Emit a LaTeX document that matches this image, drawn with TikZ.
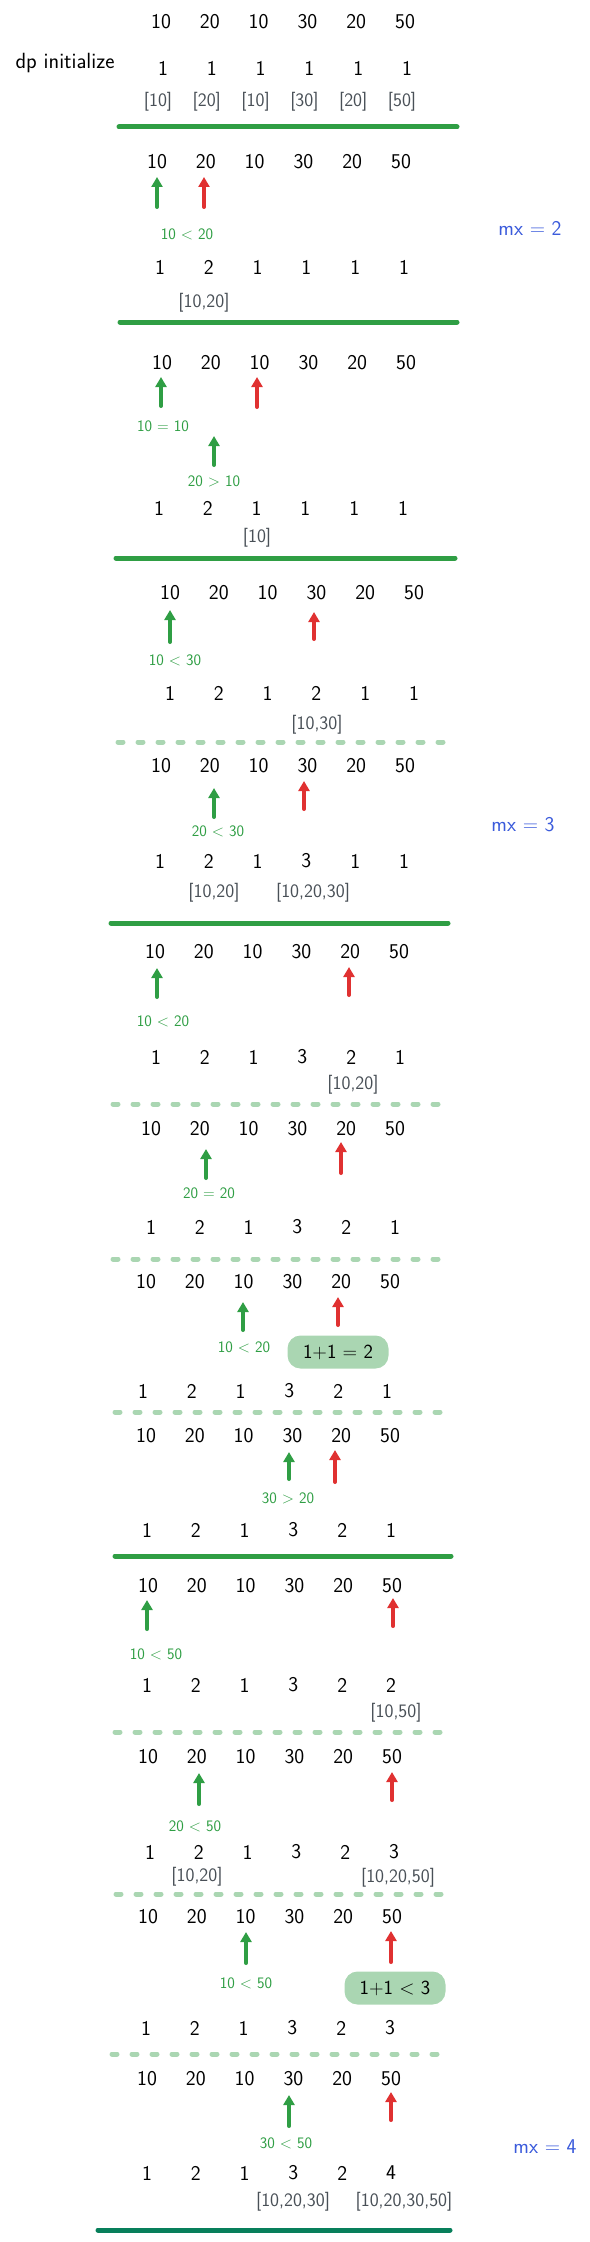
\documentclass[tikz,border=0pt]{standalone}
\usepackage{tikz}
\usetikzlibrary{arrows.meta}
\definecolor{okgreen}{RGB}{47,158,68}
\definecolor{okred}{RGB}{224,49,49}
\definecolor{okblue}{RGB}{59,91,219}
\definecolor{okgray}{RGB}{73,80,87}
\definecolor{palegreen}{RGB}{170,214,178}
\definecolor{okteal}{RGB}{8,127,91}
\tikzset{%
  numval/.style  = {font=\sffamily\fontsize{21}{25}\selectfont, inner sep=0pt},%
  dpval/.style   = {numval},%
  seq/.style     = {font=\sffamily\fontsize{19}{22}\selectfont, text=okgray, inner sep=0pt},%
  cmp/.style     = {font=\sffamily\fontsize{16}{19}\selectfont, text=okgreen, inner sep=0pt},%
  mxlabel/.style = {font=\sffamily\fontsize{21}{24}\selectfont, text=okblue, inner sep=0pt},%
  sumblob/.style = {font=\sffamily\fontsize{20}{23}\selectfont, fill=palegreen,%
                    rounded corners=13pt, minimum width=101pt, minimum height=33pt},%
  ptr/.style     = {line width=4pt, line cap=round, -{Triangle[width=11pt,length=10pt]}},%
  cur/.style     = {ptr, draw=okgreen},%
  nxt/.style     = {ptr, draw=okred},%
  sep/.style     = {line width=5pt, line cap=round, draw=okgreen},%
  subsep/.style  = {line width=5pt, line cap=round, draw=palegreen, dash pattern=on 5pt off 15pt},%
  lastsep/.style = {sep, draw=okteal}%
}
% one row of six values, name-1 ... name-6
\newcommand{\valrow}[5]{%
  \foreach \v [count=\i] in {#5}
    \node[#2] (#1-\i) at ({#3+48.8*(\i-1)},#4) {\v};%
}

\begin{document}
\begin{tikzpicture}[x=1pt,y=-1pt]
	\useasboundingbox (0,0) rectangle (589,2242);
	% start
	\valrow{a0}{numval}{161}{22}{10,20,10,30,20,50}
	\node[numval,font=\sffamily\fontsize{22}{26}\selectfont] (init) at (65,63) {dp initialize};
	\valrow{d0}{dpval}{163}{68}{1,1,1,1,1,1}
	\valrow{b0}{seq}{158}{102}{{[10]},{[20]},{[10]},{[30]},{[20]},{[50]}}
	\draw[sep] (119,127) -- (457,127);
	% i = 1
	\valrow{a1}{numval}{157}{162}{10,20,10,30,20,50}
	\node[cmp] (c1) at (187,234) {10 < 20};
	\node[mxlabel] (mx2) at (530,228) {mx = 2};
	\valrow{d1}{dpval}{160}{267}{1,2,1,1,1,1}
	\node[seq] (p1) at (204,303) {[10,20]};
	\draw[sep] (120,322) -- (457,322);
	% i = 2
	\valrow{a2}{numval}{162}{363}{10,20,10,30,20,50}
	\node[cmp] (c2a) at (163,426) {10 = 10};
	\node[cmp] (c2b) at (214,481) {20 > 10};
	\valrow{d2}{dpval}{159}{508}{1,2,1,1,1,1}
	\node[seq] (p2) at (257,538) {[10]};
	\draw[sep] (116,558) -- (455,558);
	% i = 3
	\valrow{a3}{numval}{170}{593}{10,20,10,30,20,50}
	\node[cmp] (c3a) at (175,660) {10 < 30};
	\valrow{d3}{dpval}{170}{693}{1,2,1,2,1,1}
	\node[seq] (p3a) at (317,725) {[10,30]};
	\draw[subsep] (118,742) -- (449,742);
	\valrow{a4}{numval}{161}{766}{10,20,10,30,20,50}
	\node[cmp] (c3b) at (218,831) {20 < 30};
	\node[mxlabel] (mx3) at (523,825) {mx = 3};
	\valrow{d4}{dpval}{160}{861}{1,2,1,3,1,1}
	\node[seq] (p3b) at (214,893) {[10,20]};
	\node[seq] (p3c) at (313,893) {[10,20,30]};
	\draw[sep] (111,923) -- (448,923);
	% i = 4
	\valrow{a5}{numval}{155}{952}{10,20,10,30,20,50}
	\node[cmp] (c4a) at (163,1021) {10 < 20};
	\valrow{d5}{dpval}{156}{1057}{1,2,1,3,2,1}
	\node[seq] (p4) at (353,1085) {[10,20]};
	\draw[subsep] (113,1104) -- (444,1104);
	\valrow{a6}{numval}{151}{1129}{10,20,10,30,20,50}
	\node[cmp] (c4b) at (209,1193) {20 = 20};
	\valrow{d6}{dpval}{151}{1227}{1,2,1,3,2,1}
	\draw[subsep] (113,1259) -- (443,1259);
	\valrow{a7}{numval}{146}{1282}{10,20,10,30,20,50}
	\node[cmp] (c4c) at (244,1347) {10 < 20};
	\node[sumblob] (s4) at (338,1352) {1+1 = 2};
	\valrow{d7}{dpval}{143}{1391}{1,2,1,3,2,1}
	\draw[subsep] (115,1412) -- (446,1412);
	\valrow{a8}{numval}{146}{1436}{10,20,10,30,20,50}
	\node[cmp] (c4d) at (288,1498) {30 > 20};
	\valrow{d8}{dpval}{147}{1530}{1,2,1,3,2,1}
	\draw[sep] (115,1556) -- (451,1556);
	% i = 5
	\valrow{a9}{numval}{148}{1586}{10,20,10,30,20,50}
	\node[cmp] (c5a) at (156,1654) {10 < 50};
	\valrow{d9}{dpval}{147}{1685}{1,2,1,3,2,2}
	\node[seq] (p5a) at (396,1713) {[10,50]};
	\draw[subsep] (115,1732) -- (445,1732);
	\valrow{a10}{numval}{148}{1757}{10,20,10,30,20,50}
	\node[cmp] (c5b) at (195,1826) {20 < 50};
	\valrow{d10}{dpval}{150}{1852}{1,2,1,3,2,3}
	\node[seq] (p5b) at (197,1877) {[10,20]};
	\node[seq] (p5c) at (398,1878) {[10,20,50]};
	\draw[subsep] (116,1894) -- (448,1894);
	\valrow{a11}{numval}{148}{1917}{10,20,10,30,20,50}
	\node[cmp] (c5c) at (246,1983) {10 < 50};
	\node[sumblob] (s5) at (395,1988) {1+1 < 3};
	\valrow{d11}{dpval}{146}{2028}{1,2,1,3,2,3}
	\draw[subsep] (112,2054) -- (443,2054);
	\valrow{a12}{numval}{147}{2079}{10,20,10,30,20,50}
	\node[cmp] (c5d) at (286,2143) {30 < 50};
	\node[mxlabel] (mx4) at (545,2147) {mx = 4};
	\valrow{d12}{dpval}{147}{2173}{1,2,1,3,2,4}
	\node[seq] (p5d) at (293,2202) {[10,20,30]};
	\node[seq] (p5e) at (404,2202) {[10,20,30,50]};
	\draw[lastsep] (98,2230) -- (450,2230);
	% pointers j (green) and i (red)
	\foreach \nm/\x/\ya/\yb in {g1/157/207/177, g2/161/406/377, g2b/214/465/436,
	    g3/170/642/610, g3b/214/817/788, g4/157/997/968, g4b/206/1178/1149,
	    g4c/243/1330/1302, g4d/289/1479/1452, g5/147/1629/1600, g5b/199/1804/1773,
	    g5c/246/1963/1932, g5d/289/2126/2095}{
		\coordinate (\nm s) at (\x,\ya);
		\coordinate (\nm e) at (\x,\yb);
		\draw[cur] (\nm s) -- (\nm e);
	}
	\foreach \nm/\x/\ya/\yb in {r1/204/207/177, r2/257/407/377, r3/314/639/612,
	    r3b/304/809/781, r4/349/995/967, r4b/341/1173/1142, r4c/338/1325/1297,
	    r4d/335/1482/1450, r5/393/1626/1598, r5b/392/1800/1772, r5c/391/1962/1931,
	    r5d/391/2120/2092}{
		\coordinate (\nm s) at (\x,\ya);
		\coordinate (\nm e) at (\x,\yb);
		\draw[nxt] (\nm s) -- (\nm e);
	}
\end{tikzpicture}
\end{document}
